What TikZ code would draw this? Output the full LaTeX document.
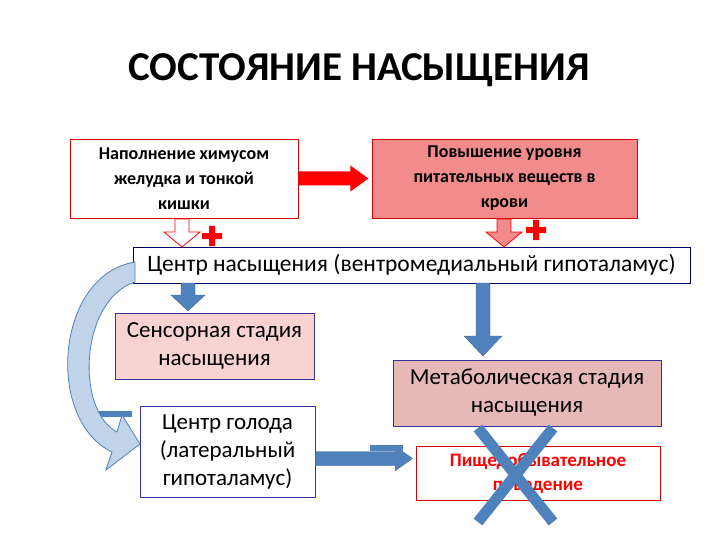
\documentclass[tikz,border=0pt]{standalone}
\usepackage{fontspec}
\setmainfont{Carlito}
\begin{document}
\begin{tikzpicture}[x=1pt,y=-1pt,
 redbox/.style={draw=red!85!black,line width=0.8pt,align=center,inner sep=2pt},
 bluebox/.style={draw=blue!50!black!80,line width=0.8pt,align=center,inner sep=2pt},
 barrow/.style={fill=arrblue,draw=arrblue!80!black}]
\definecolor{arrblue}{HTML}{4F81BD}
\definecolor{salmon}{HTML}{F28B8B}
\definecolor{pinkA}{HTML}{F9D2D2}
\definecolor{pinkB}{HTML}{E6B9B8}
\useasboundingbox (0,0) rectangle (720,540);
\fill[white] (0,0) rectangle (720,540);
\node[font=\fontsize{41}{44}\selectfont\bfseries] (title) at (359,70) {СОСТОЯНИЕ НАСЫЩЕНИЯ};
\node[redbox,minimum width=228pt,minimum height=79pt,font=\fontsize{18}{25}\selectfont\bfseries] (b1) at (184,178.5) {Наполнение химусом\\желудка и тонкой\\кишки};
\node[redbox,fill=salmon,minimum width=265pt,minimum height=79pt,font=\fontsize{18}{25}\selectfont\bfseries] (b2) at (504.5,178.5) {Повышение уровня\\питательных веществ в\\крови};
\fill[red] (b1.east)++(0,-7) coordinate (ra) -- ++(52,0) -- ++(0,-6) -- ++(18,13) -- ++(-18,13) -- ++(0,-6) -- ++(-52,0) -- cycle;
\node[bluebox,draw=blue!40!black,minimum width=557pt,minimum height=36pt,font=\fontsize{23.5}{28}\selectfont] (c) at (411.5,265) {Центр насыщения (вентромедиальный гипоталамус)};
% hollow arrows
\draw[red,fill=white,line width=0.8pt] (175,219) -- (189,219) -- (189,232) -- (200,232) -- (182,247) -- (164,232) -- (175,232) -- cycle;
\draw[red,fill=salmon,line width=0.8pt] (497,219) -- (511,219) -- (511,232) -- (522,232) -- (504,247) -- (486,232) -- (497,232) -- cycle;
\fill[red] (209,226) rectangle (215,246) (202,233) rectangle (222,239);
\fill[red] (533,220) rectangle (539,240) (526,227) rectangle (546,233);
% boxes
\node[bluebox,fill=pinkA,minimum width=199pt,minimum height=66pt,font=\fontsize{23}{28}\selectfont] (s) at (214.5,346) {Сенсорная стадия\\насыщения};
\node[bluebox,fill=pinkB,minimum width=268pt,minimum height=66pt,font=\fontsize{23}{28}\selectfont] (m) at (527,393) {Метаболическая стадия\\насыщения};
\node[bluebox,minimum width=175pt,minimum height=91pt,font=\fontsize{23}{28}\selectfont] (h) at (227.5,451.5) {Центр голода\\(латеральный\\гипоталамус)};
\node[redbox,minimum width=244pt,minimum height=54pt,text=red,font=\fontsize{19}{24}\selectfont\bfseries] (f) at (538,473) {Пищедобывательное\\поведение};
% blue arrows
\draw[barrow] (181,283) -- (195,283) -- (195,295) -- (205,295) -- (188,311) -- (171,295) -- (181,295) -- cycle;
\draw[barrow] (476,283) -- (490,283) -- (490,336) -- (502,336) -- (483,356) -- (464,336) -- (476,336) -- cycle;
\draw[barrow] (h.east)++(0,14) -- ++(80,0) -- ++(0,5) -- ++(17,-12) -- ++(-17,-12) -- ++(0,5) -- ++(-80,0) -- cycle;
\fill[arrblue] (97,411) rectangle (132,417);
\fill[arrblue] (370,445) rectangle (403,451);
% curved arrow
\draw[fill=arrblue!35,draw=arrblue,line width=0.8pt] (135,262) .. controls (55,275) and (45,420) .. (112,452) -- (106,470) -- (140,444) -- (122,415) -- (117,432) .. controls (75,410) and (80,300) .. (135,282) -- cycle;
% cross
\draw[arrblue,line width=11pt] (478,428) -- (553,522) (553,428) -- (478,522);
\end{tikzpicture}
\end{document}
